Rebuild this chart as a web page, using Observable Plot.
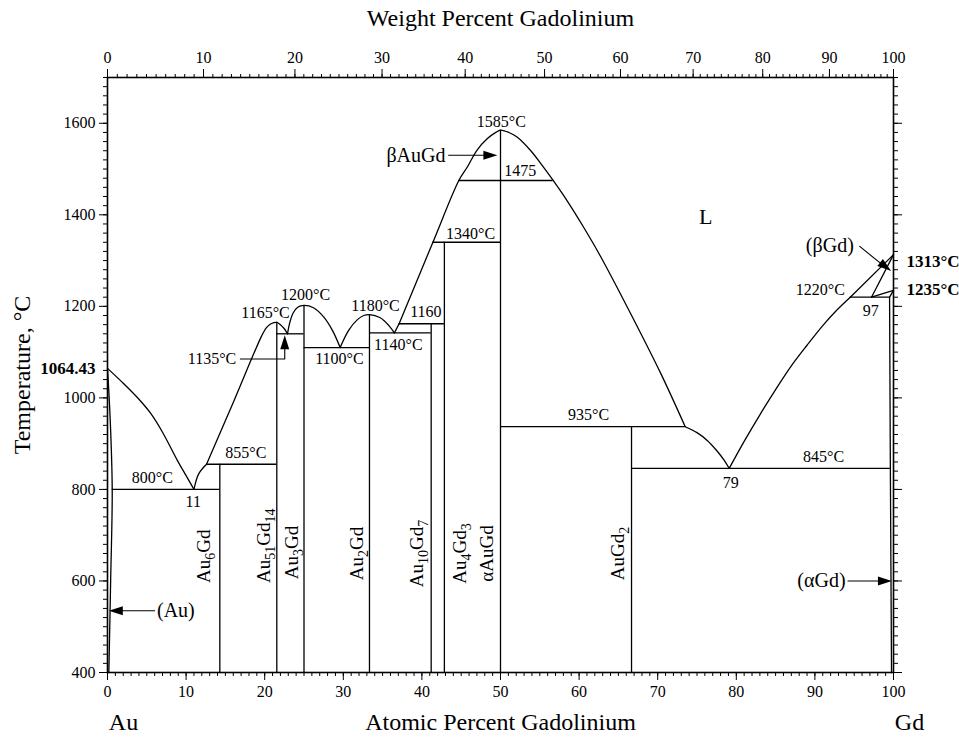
<!DOCTYPE html>
<html><head><meta charset="utf-8">
<script src="https://cdn.jsdelivr.net/npm/d3@7"></script>
<script src="https://cdn.jsdelivr.net/npm/@observablehq/plot@0.6"></script>
<style>body{margin:0;background:#fff}</style>
</head><body><div id="chart"></div>
<script>
// ---------- data (atomic % Gd, temperature °C) ----------
const atTickLabels = [0,10,20,30,40,50,60,70,80,90,100];
const wtTickLabels = [0,10,20,30,40,50,60,70,80,90,100];
const tempTickLabels = [400,600,800,1000,1200,1400,1600];

const auLiquidus = [[0,1064.43],[2,1032],[4,997],[5.5,966],[7,925],[8.9,863],[10,830],[11,800]];
const auSolvus = [[0,1064.43],[0.35,950],[0.6,800],[0.4,600],[0.17,400]];
const liqEutPerit = [[11,800],[11.6,834],[12.6,855]];
const liqAu51Gd14 = [[12.6,855],[16,990],[19.6,1135],[20.2,1153],[20.7,1161],[21.1,1164],[21.54,1165],[22.0,1160],[22.5,1151],[22.9,1140]];
const liqAu3Gd = [[22.9,1140],[23.2,1165],[23.6,1185],[24.2,1198],[25,1202],[26.2,1197],[27.5,1177],[28.6,1148],[29.6,1110]];
const liqAu2Gd = [[29.6,1110],[30.7,1148],[31.8,1171],[32.6,1180],[33.33,1182],[34.7,1175],[35.8,1158],[36.5,1142]];
const liqAu10Gd7 = [[36.5,1142],[37.1,1162]];
const liqAuGd = [[37.1,1162],[41.4,1340],[44.7,1475],[45.8,1505],[47.0,1541],[48.3,1566],[49.4,1580],[50,1585],[50.9,1581],[52.1,1570],[53.8,1541],[55.3,1508],[56.7,1475],[58.5,1430],[60.5,1375],[62.7,1310],[66.5,1186],[70.4,1053],[73.5,937]];
const liqAuGd2 = [[73.5,937],[75,924],[76.3,907],[77.5,885],[78.4,865],[79.1,846]];
const liqGdSide = [[79.1,846],[81,905],[83,963],[85,1018],[87,1070],[89,1115],[91,1158],[92.8,1192],[94.5,1220]];
const liqBetaGd = [[94.5,1220],[100,1313]];
const solBetaGd = [[97.2,1220],[100,1313]];
const solvBetaGd = [[97.2,1220],[100,1235]];
const solvAlphaTop = [[99.5,1220],[100,1235]];
const solvAlphaGd = [[99.5,1220],[99.6,846],[99.75,400]];

const isoT    = [800, 855, 1140, 1110, 1142, 1162, 1340, 1475, 937, 846, 1220];
const isoFrom = [0.6, 12.6, 21.54, 25, 33.33, 37.1, 41.4, 44.7, 50, 66.67, 94.5];
const isoTo   = [14.29, 21.54, 25, 33.33, 41.18, 42.86, 50, 56.7, 73.5, 99.6, 99.5];

const compoundNames = ["Au{6}Gd","Au{51}Gd{14}","Au{3}Gd","Au{2}Gd","Au{10}Gd{7}","Au{4}Gd{3}","αAuGd","AuGd{2}"];
const compoundAt  = [14.29, 21.54, 25, 33.33, 41.18, 42.86, 50, 66.67];
const compoundTop = [855, 1165, 1202, 1182, 1162, 1340, 1585, 937];
const compoundLabelAt = [12.3, 19.9, 23.4, 31.7, 39.4, 44.8, 48.3, 65.0];
const compoundLabelT  = [654, 677, 662, 660, 660, 660, 660, 660];

const tempLabelText = ["1585°C","1475","1340°C","1200°C","1165°C","1180°C","1160","1135°C","1100°C","1140°C","855°C","800°C","11","935°C","845°C","79","1220°C","97"];
const tempLabelAt   = [50.1, 52.5, 46.2, 25.2, 20.1, 34.1, 40.5, 13.3, 29.5, 37.0, 17.6, 5.7, 10.9, 61.2, 91.1, 79.3, 90.7, 97.1];
const tempLabelT    = [1603, 1497, 1359, 1224, 1185, 1202, 1187, 1086, 1086, 1115, 879, 826, 772, 962, 872, 814, 1236, 1191];

const boldLabelText = ["1064.43","1313°C","1235°C"];
const boldLabelAt   = [0, 100, 100];
const boldLabelT    = [1064.43, 1297, 1236];

const phaseLabelText = ["βAuGd","L","(βGd)","(αGd)","(Au)"];
const phaseLabelAt   = [43.0, 76.1, 91.9, 93.9, 6.3];
const phaseLabelT    = [1530, 1395, 1333, 600, 535];

const arrowTipAt = [0.17, 49.6, 22.55, 99.7, 99.8];
const arrowTipT  = [535, 1530, 1137, 1277, 600];
const arrowShafts = [
  [[6.0,535],[1.5,535]],
  [[43.4,1530],[48,1530]],
  [[16.9,1085],[22.55,1085],[22.55,1125]],
  [[95.7,1331],[99,1285]],
  [[94.2,600],[98.5,600]]
];

// ---------- helpers ----------
const AU = 196.967, GD = 157.25;
const wtToAt = w => { const a = w / GD, b = (100 - w) / AU; return 100 * a / (a + b); };
const topMajor = wtTickLabels.map(wtToAt);
const topLabel = new Map(topMajor.map((a, i) => [a, String(wtTickLabels[i])]));
const topMinor = d3.range(0, 101, 1).map(wtToAt);
const bottomMinor = d3.range(0, 101, 1);
const tempMinor = d3.range(400, 1701, 20);

const seg = (pts, id) => pts.map(([x, T]) => ({x, T, id}));
const smoothSegs = [auLiquidus, auSolvus, liqEutPerit, liqAu51Gd14, liqAu3Gd, liqAu2Gd, liqAuGd, liqAuGd2, liqGdSide]
  .flatMap((p, i) => seg(p, "s" + i));
const straightSegs = [liqAu10Gd7, liqBetaGd, solBetaGd, solvBetaGd, solvAlphaTop, solvAlphaGd]
  .flatMap((p, i) => seg(p, "l" + i));
const isotherms = isoT.map((T, i) => ({T, x1: isoFrom[i], x2: isoTo[i]}));
const compounds = compoundAt.map((x, i) => ({x, top: compoundTop[i], name: compoundNames[i], lx: compoundLabelAt[i], lT: compoundLabelT[i]}));
const tempLabels = tempLabelText.map((t, i) => ({t, x: tempLabelAt[i], T: tempLabelT[i]}));
const boldLabels = boldLabelText.map((t, i) => ({t, x: boldLabelAt[i], T: boldLabelT[i]}));
const phaseLabels = phaseLabelText.map((t, i) => ({t, x: phaseLabelAt[i], T: phaseLabelT[i]}));
const arrowRot = [-90, 90, 0, 128, 90];
const arrowTips = arrowTipAt.map((x, i) => ({x, T: arrowTipT[i], rot: arrowRot[i]}));
const shafts = arrowShafts.flatMap((p, i) => seg(p, "a" + i));

const arrowHead = {draw(ctx) { ctx.moveTo(0, 0); ctx.lineTo(-4.5, 14); ctx.lineTo(4.5, 14); ctx.closePath(); }};
const plain = d => String(d);

const LW = 1.3;
const svg = Plot.plot({
  width: 959, height: 738,
  marginLeft: 107, marginRight: 66, marginTop: 77, marginBottom: 66,
  style: {fontFamily: "'Liberation Serif', 'Times New Roman', serif", fontSize: "16px", background: "#fff", color: "#000"},
  x: {domain: [0, 100], axis: null},
  y: {domain: [400, 1700], axis: null},
  marks: [
    Plot.axisY({anchor: "left", ticks: tempTickLabels, tickFormat: plain, tickSize: 8, tickPadding: 4, fontSize: 16, label: null}),
    Plot.axisY({anchor: "left", ticks: tempMinor, tickSize: 4, tickFormat: () => "", label: null}),
    Plot.axisY({anchor: "right", ticks: tempTickLabels, tickSize: 8, tickFormat: () => "", label: null}),
    Plot.axisY({anchor: "right", ticks: tempMinor, tickSize: 4, tickFormat: () => "", label: null}),
    Plot.axisX({anchor: "bottom", ticks: atTickLabels, tickFormat: plain, tickSize: 8, tickPadding: 5, fontSize: 16, label: null}),
    Plot.axisX({anchor: "bottom", ticks: bottomMinor, tickSize: 4, tickFormat: () => "", label: null}),
    Plot.axisX({anchor: "top", ticks: topMajor, tickFormat: a => topLabel.get(a), tickSize: 9, tickPadding: 6, fontSize: 16, label: null}),
    Plot.axisX({anchor: "top", ticks: topMinor, tickSize: 4, tickFormat: () => "", label: null}),
    Plot.frame({stroke: "#000", strokeWidth: 1.6}),
    Plot.text(["Weight Percent Gadolinium"], {frameAnchor: "top", dy: -59, lineAnchor: "middle", textAnchor: "middle", fontSize: 24}),
    Plot.text(["Atomic Percent Gadolinium"], {frameAnchor: "bottom", dy: 50, lineAnchor: "middle", textAnchor: "middle", fontSize: 24}),
    Plot.text(["Au"], {x: 0, y: 400, dx: 16, dy: 50, fontSize: 24}),
    Plot.text(["Gd"], {x: 100, y: 400, dx: 16, dy: 50, fontSize: 24}),
    Plot.text(["Temperature, °C"], {frameAnchor: "left", dx: -85, rotate: -90, textAnchor: "middle", lineAnchor: "middle", fontSize: 24}),
    Plot.line(smoothSegs, {x: "x", y: "T", z: "id", curve: "catmull-rom", stroke: "#000", strokeWidth: LW}),
    Plot.line(straightSegs, {x: "x", y: "T", z: "id", stroke: "#000", strokeWidth: LW}),
    Plot.ruleY(isotherms, {y: "T", x1: "x1", x2: "x2", stroke: "#000", strokeWidth: LW}),
    Plot.ruleX(compounds, {x: "x", y1: 400, y2: "top", stroke: "#000", strokeWidth: LW}),
    Plot.line(shafts, {x: "x", y: "T", z: "id", stroke: "#000", strokeWidth: 1.1}),
    Plot.dot(arrowTips, {x: "x", y: "T", rotate: "rot", symbol: arrowHead, fill: "#000", stroke: "none"}),
    Plot.text(compounds, {x: "lx", y: "lT", text: "name", rotate: -90, fontSize: 19}),
    Plot.text(tempLabels, {x: "x", y: "T", text: "t", fontSize: 16}),
    Plot.text(boldLabels.slice(0, 1), {x: "x", y: "T", text: "t", fontSize: 17, fontWeight: "bold", textAnchor: "end", dx: -12}),
    Plot.text(boldLabels.slice(1), {x: "x", y: "T", text: "t", fontSize: 17, fontWeight: "bold", textAnchor: "start", dx: 13}),
    Plot.text(phaseLabels.slice(0, 1), {x: "x", y: "T", text: "t", fontSize: 20, textAnchor: "end"}),
    Plot.text(phaseLabels.slice(1, 2), {x: "x", y: "T", text: "t", fontSize: 22}),
    Plot.text(phaseLabels.slice(2, 3), {x: "x", y: "T", text: "t", fontSize: 20}),
    Plot.text(phaseLabels.slice(3, 4), {x: "x", y: "T", text: "t", fontSize: 20, textAnchor: "end"}),
    Plot.text(phaseLabels.slice(4), {x: "x", y: "T", text: "t", fontSize: 20, textAnchor: "start"})
  ]
});

svg.querySelectorAll("text").forEach(t => {
  const s = t.textContent;
  if (!s.includes("{")) return;
  const parts = s.split(/(\{[^}]*\})/).filter(p => p.length);
  t.textContent = "";
  let shifted = false;
  for (const p of parts) {
    const ts = document.createElementNS("http://www.w3.org/2000/svg", "tspan");
    if (p.startsWith("{")) {
      ts.textContent = p.slice(1, -1);
      ts.setAttribute("font-size", "14");
      ts.setAttribute("dy", "5");
      shifted = true;
    } else {
      ts.textContent = p;
      if (shifted) { ts.setAttribute("dy", "-5"); shifted = false; }
    }
    t.appendChild(ts);
  }
});
document.getElementById("chart").appendChild(svg);
</script></body></html>
